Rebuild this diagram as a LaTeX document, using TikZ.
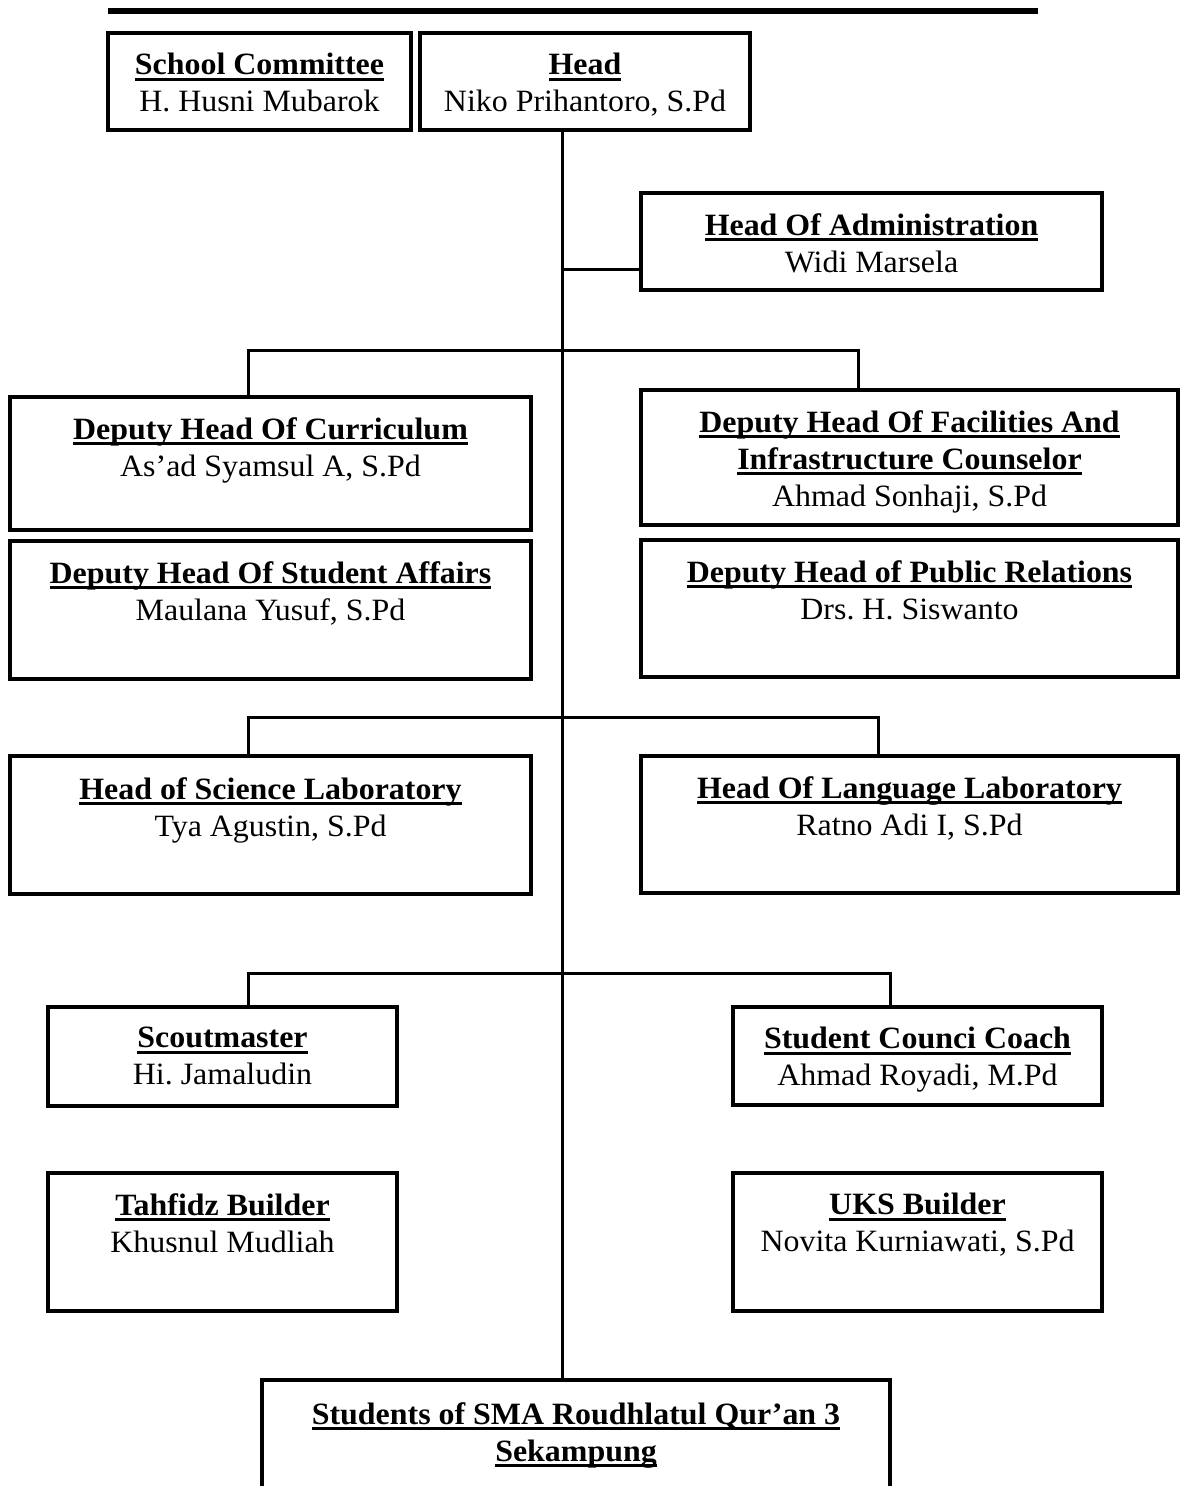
\documentclass[tikz,border=0pt]{standalone}
\usepackage{fontspec}
\setmainfont{Liberation Serif}[FakeStretch=1.03]
\usetikzlibrary{calc,fit}
\newcommand{\orgfont}{\fontsize{15.5}{18.5}\selectfont}
\newsavebox{\jbox}
\newcommand{\jabatan}[1]{\sbox{\jbox}{\textbf{#1}}\rlap{\rule[-3pt]{\wd\jbox}{1.6pt}}\usebox{\jbox}}
\frenchspacing

\begin{document}
\begin{tikzpicture}[x=0.5pt,y=-0.5pt,
  box/.style={draw,line width=2.2pt,inner sep=0pt},
  conn/.style={line width=1.5pt},
  txt/.style={align=center,inner sep=0pt,anchor=north,font=\orgfont,execute at begin node=\strut}]
\path[use as bounding box,clip] (0,0) rectangle (1181,1486);
\draw[line width=3.25pt] (108,11)--(1038,11);
% kotak
\node[box,fit={(108,33) (411,130)}] (kom) {};
\node[box,fit={(420,33) (750,130)}] (kepsek) {};
\node[box,fit={(641,193) (1102,290)}] (tu) {};
\node[box,fit={(10,397) (531,530)}] (kur) {};
\node[box,fit={(10,541) (531,679)}] (kes) {};
\node[box,fit={(641,390) (1178,525)}] (sar) {};
\node[box,fit={(641,540) (1178,677)}] (hum) {};
\node[box,fit={(10,756) (531,894)}] (ipa) {};
\node[box,fit={(641,756) (1178,893)}] (bhs) {};
\node[box,fit={(48,1007) (397,1106)}] (pra) {};
\node[box,fit={(733,1007) (1102,1105)}] (osis) {};
\node[box,fit={(48,1173) (397,1311)}] (tah) {};
\node[box,fit={(733,1173) (1102,1311)}] (uks) {};
\node[box,fit={(262,1380) (890,1530)}] (siswa) {};
% teks
\node[txt] (komT) at ($(kom.north)+(0,22)$) {\jabatan{School Committee}\\H. Husni Mubarok};
\node[txt] (kepsekT) at ($(kepsek.north)+(0,22)$) {\jabatan{Head}\\Niko Prihantoro, S.Pd};
\node[txt] (tuT) at ($(tu.north)+(0,22)$) {\jabatan{Head Of Administration}\\Widi Marsela};
\node[txt] (kurT) at ($(kur.north)+(0,22)$) {\jabatan{Deputy Head Of Curriculum}\\As'ad Syamsul A, S.Pd};
\node[txt] (kesT) at ($(kes.north)+(0,22)$) {\jabatan{Deputy Head Of Student Affairs}\\Maulana Yusuf, S.Pd};
\node[txt] (sarT) at ($(sar.north)+(0,22)$) {\jabatan{Deputy Head Of Facilities And}\\\jabatan{Infrastructure Counselor}\\Ahmad Sonhaji, S.Pd};
\node[txt] (humT) at ($(hum.north)+(0,22)$) {\jabatan{Deputy Head of Public Relations}\\Drs. H. Siswanto};
\node[txt] (ipaT) at ($(ipa.north)+(0,23)$) {\jabatan{Head of Science Laboratory}\\Tya Agustin, S.Pd};
\node[txt] (bhsT) at ($(bhs.north)+(0,22)$) {\jabatan{Head Of Language Laboratory}\\Ratno Adi I, S.Pd};
\node[txt] (praT) at ($(pra.north)+(0,22)$) {\jabatan{Scoutmaster}\\Hi. Jamaludin};
\node[txt] (osisT) at ($(osis.north)+(0,22)$) {\jabatan{Student Counci Coach}\\Ahmad Royadi, M.Pd};
\node[txt] (tahT) at ($(tah.north)+(0,22)$) {\jabatan{Tahfidz Builder}\\Khusnul Mudliah};
\node[txt] (uksT) at ($(uks.north)+(0,22)$) {\jabatan{UKS Builder}\\Novita Kurniawati, S.Pd};
\node[txt] (siswaT) at ($(siswa.north)+(0,24)$) {\jabatan{Students of SMA Roudhlatul Qur'an 3}\\\jabatan{Sekampung}};
% garis
\coordinate (spine) at (562,0);
\draw[conn] (spine |- kepsek.south)--(spine |- siswa.north);
\draw[conn] (spine |- 0,270)--(tu.west |- 0,270);
\draw[conn] (248,0 |- kur.north) |- (858,351)--(858,0 |- sar.north);
\draw[conn] (248,0 |- ipa.north) |- (878,717)--(878,0 |- bhs.north);
\draw[conn] (248,0 |- pra.north) |- (890,973)--(890,0 |- osis.north);
\end{tikzpicture}
\end{document}
